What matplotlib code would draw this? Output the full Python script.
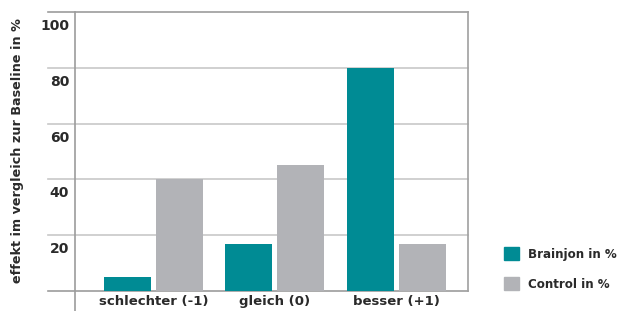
import matplotlib
matplotlib.use("Agg")
import matplotlib.pyplot as plt
import numpy as np
from matplotlib.transforms import offset_copy
from matplotlib.patches import Patch

categories = ["schlechter (-1)", "gleich (0)", "besser (+1)"]
brainjon = [5, 17, 80]
control = [40, 45, 17]
series_names = ["Brainjon in %", "Control in %"]
yticks = [20, 40, 60, 80, 100]
ylabel = "effekt im vergleich zur Baseline in %"

teal = "#008b94"
grey = "#b2b3b7"
txt = "#2a2a2a"

plt.rcParams['font.family'] = ['DejaVu Sans']
fig = plt.figure(figsize=(6.21, 3.11), dpi=100)
ax = fig.add_axes([75/621, 20/311, 393/621, 279/311])

x = np.arange(len(categories))
w = 0.387
gap = 0.02
ax.bar(x - w/2 - gap, brainjon, width=w, color=teal, zorder=1)
ax.bar(x + w/2 + gap, control, width=w, color=grey, zorder=1)

ax.set_xlim(-0.646, 2.59)
ax.set_ylim(0, 100)
for s in ax.spines.values():
    s.set_visible(False)
ax.set_xticks([])
ax.set_yticks([])

ext = -27/393
# horizontal gridlines (extend left of the axis)
for v in [0] + yticks:
    col = "#9c9c9c" if v in (0, 100) else "#c8c8c8"
    ax.plot([ext, 1], [v, v], transform=ax.get_yaxis_transform(), color=col,
            lw=1.2, clip_on=False, zorder=0.5)
# left vertical axis, extending below
ax.plot([0, 0], [-20/279, 1], transform=ax.transAxes, color="#9c9c9c", lw=1.2,
        clip_on=False, zorder=4)
# right border
ax.plot([1, 1], [0, 1], transform=ax.transAxes, color="#a0a0a0", lw=1.2,
        clip_on=False, zorder=4)

# y tick labels below gridlines
tr = offset_copy(ax.get_yaxis_transform(), fig=fig, x=0, y=-14, units='dots')
for v in yticks:
    ax.text(-0.015, v, str(v), transform=tr, ha='right', va='center',
            fontsize=10, fontweight='bold', color=txt)

# x labels
trx = offset_copy(ax.get_xaxis_transform(), fig=fig, x=0, y=-11, units='dots')
for xi, c in zip(x, categories):
    ax.text(xi + 0.0, 0, c, transform=trx, ha='center', va='center',
            fontsize=9.5, fontweight='bold', color=txt)

fig.text(18/621, 1 - 151/311, ylabel, rotation=90, ha='center', va='center',
         fontsize=9.2, fontweight='bold', color=txt)

handles = [Patch(color=teal), Patch(color=grey)]
leg = fig.legend(handles, series_names, loc='center left',
                 bbox_to_anchor=(499/621, 1 - 269/311), frameon=False,
                 handlelength=1.25, handleheight=1.25, handletextpad=0.75,
                 labelspacing=1.42, borderaxespad=0, borderpad=0.4,
                 prop={'weight': 'bold', 'size': 8.6})
for t in leg.get_texts():
    t.set_color(txt)

fig.savefig("out.png", dpi=100)
